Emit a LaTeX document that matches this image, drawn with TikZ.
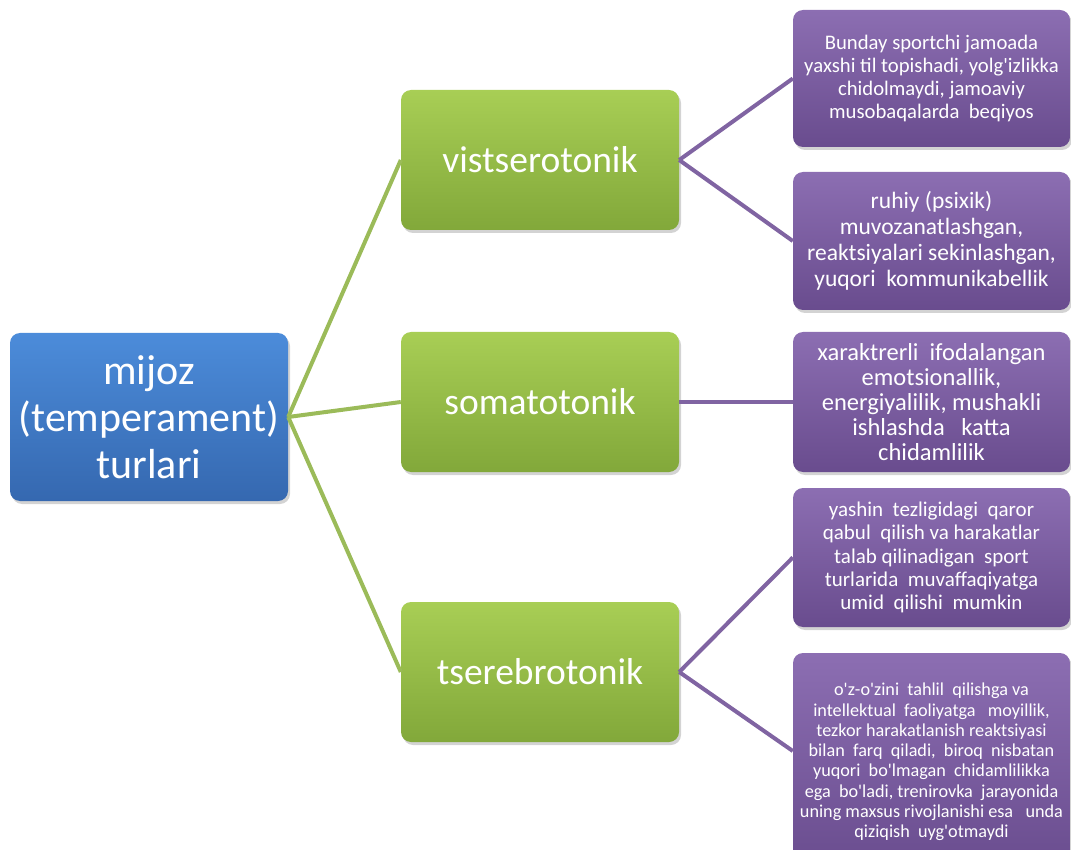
\documentclass[tikz,border=0pt]{standalone}
\usepackage{fontspec}
\setmainfont{Carlito}[Ligatures=TeXOff]
\usetikzlibrary{shadows}

\definecolor{rootTop}{HTML}{4C8CDA}
\definecolor{rootBot}{HTML}{3568B0}
\definecolor{typeTop}{HTML}{A8CE55}
\definecolor{typeBot}{HTML}{82A83A}
\definecolor{traitTop}{HTML}{8C6EB2}
\definecolor{traitBot}{HTML}{694C8E}
\definecolor{greenLine}{HTML}{9BBB59}
\definecolor{purpleLine}{HTML}{8064A2}

\tikzset{
  box/.style={rounded corners=10pt, minimum width=278pt, align=center, text=white,
    inner sep=1pt, drop shadow={opacity=0.35, shadow xshift=2pt, shadow yshift=-3pt}},
  rootbox/.style={box, top color=rootTop, bottom color=rootBot, minimum height=168pt,
    font=\fontsize{42}{47}\selectfont},
  typebox/.style={box, top color=typeTop, bottom color=typeBot, minimum height=140pt,
    font=\fontsize{37.5}{40}\selectfont},
  traitbox/.style={box, minimum width=277pt, top color=traitTop, bottom color=traitBot,
    font=\fontsize{20.7}{22.7}\selectfont},
  greenlink/.style={draw=greenLine, line width=4pt},
  purplelink/.style={draw=purpleLine, line width=4pt},
}

\begin{document}
\begin{tikzpicture}[x=1pt,y=-1pt]
\useasboundingbox (0,0) rectangle (1071,850);

% root and the three types
\node[rootbox] (root) at (149,417) {mijoz\\(temperament)\\turlari};
\node[typebox] (visc) at (540,160) {vistserotonik};
\node[typebox] (soma) at (540,402) {somatotonik};
\node[typebox] (cere) at (540,672) {tserebrotonik};

% traits
\node[traitbox, minimum height=137pt] (viscA) at (931.5,78.5)
  {Bunday sportchi jamoada\\yaxshi til topishadi, yolg'izlikka\\chidolmaydi, jamoaviy\\musobaqalarda\ \ beqiyos};
\node[traitbox, minimum height=138pt, font=\fontsize{23.5}{26}\selectfont] (viscB) at (931.5,241)
  {ruhiy (psixik)\\muvozanatlashgan,\\reaktsiyalari sekinlashgan,\\yuqori\ \ kommunikabellik};
\node[traitbox, minimum height=140pt, font=\fontsize{24.5}{25}\selectfont] (somaA) at (931.5,402)
  {xaraktrerli\ \ ifodalangan\\emotsionallik,\\energiyalilik, mushakli\\ishlashda\ \ \ katta\\chidamlilik};
\node[traitbox, minimum height=139pt, font=\fontsize{21}{23.3}\selectfont] (cereA) at (931.5,557.5)
  {yashin\ \ tezligidagi\ \ qaror\\qabul\ \ qilish va harakatlar\\talab qilinadigan\ \ sport\\turlarida\ \ muvaffaqiyatga\\umid\ \ qilishi\ \ mumkin};
\node[traitbox, minimum height=218pt, font=\fontsize{18.2}{20.3}\selectfont] (cereB) at (931.5,762)
  {o'z-o'zini\ \ tahlil\ \ qilishga va\\intellektual\ \ faoliyatga\ \ \ moyillik,\\tezkor harakatlanish reaktsiyasi\\bilan\ \ farq\ \ qiladi,\ \ biroq\ \ nisbatan\\yuqori\ \ bo'lmagan\ \ chidamlilikka\\ega\ \ bo'ladi,\ trenirovka\ \ jarayonida\\uning maxsus rivojlanishi esa\ \ \ unda\\qiziqish\ \ uyg'otmaydi};

% connectors
\draw[greenlink] (root.east) -- (visc.west);
\draw[greenlink] (root.east) -- (soma.west);
\draw[greenlink] (root.east) -- (cere.west);
\draw[purplelink] (visc.east) -- (viscA.west);
\draw[purplelink] (visc.east) -- (viscB.west);
\draw[purplelink] (soma.east) -- (somaA.west);
\draw[purplelink] (cere.east) -- (cereA.west);
\draw[purplelink] (cere.east) -- ([yshift=11pt]cereB.west);
\end{tikzpicture}
\end{document}
